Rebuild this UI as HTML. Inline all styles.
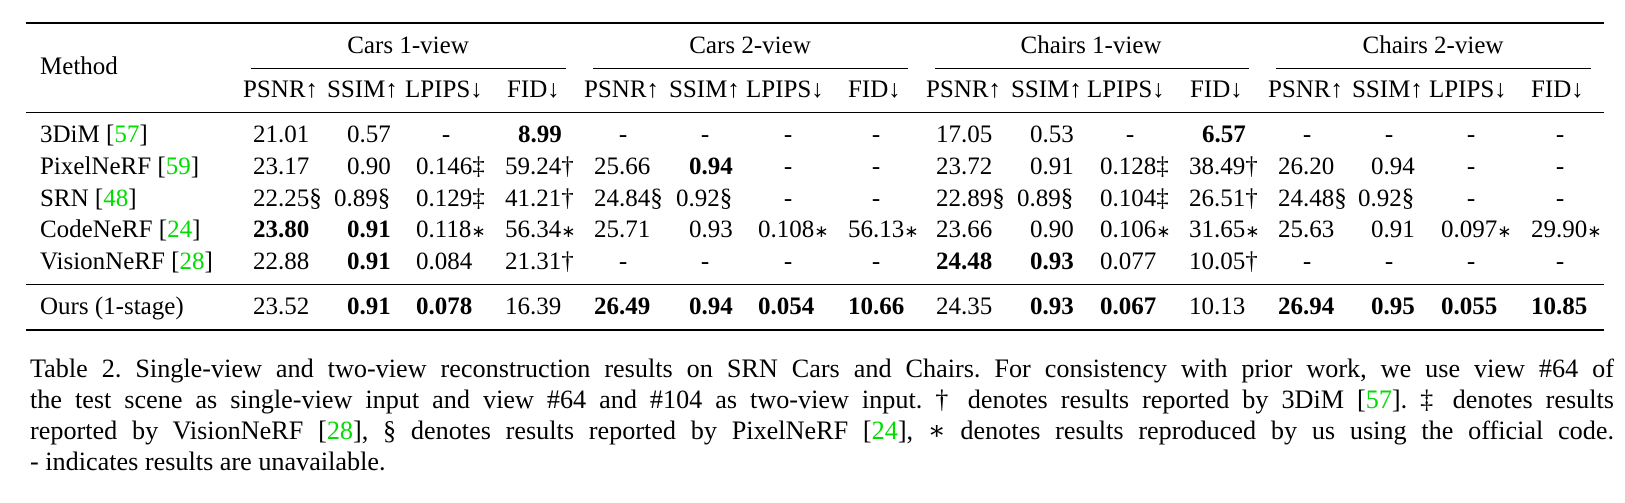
<!DOCTYPE html>
<html><head><meta charset="utf-8">
<style>
html,body{margin:0;padding:0;background:#fff;}
#root{position:relative;width:1625px;height:503px;overflow:hidden;background:#fff;font-family:"Liberation Serif","DejaVu Serif",serif;color:#000;}
.t{position:absolute;white-space:nowrap;font-size:25px;line-height:30px;}
.rule{position:absolute;background:#000;}
.ref{color:#00dd00;}
.b{font-weight:bold;}
.cap{position:absolute;left:30px;width:1584px;font-size:26.2px;line-height:30px;text-align:justify;text-align-last:justify;white-space:nowrap;}
.cap.last{text-align-last:left;}
</style></head>
<body>
<div id="root">
  <div class="rule" style="left:26px;top:22px;width:1578px;height:2px;"></div>
  <div class="rule" style="left:26px;top:112px;width:1578px;height:1.4px;"></div>
  <div class="rule" style="left:26px;top:284px;width:1578px;height:1.4px;"></div>
  <div class="rule" style="left:26px;top:329px;width:1578px;height:2px;"></div>
  <div class="t" style="left:40px;top:52px;">Method</div>

  <div class="cap" style="top:354px;">Table 2. Single-view and two-view reconstruction results on SRN Cars and Chairs. For consistency with prior work, we use view #64 of</div>
  <div class="cap" style="top:385px;">the test scene as single-view input and view #64 and #104 as two-view input. † denotes results reported by 3DiM [<span class="ref">57</span>]. ‡ denotes results</div>
  <div class="cap" style="top:416px;">reported by VisionNeRF [<span class="ref">28</span>], § denotes results reported by PixelNeRF [<span class="ref">24</span>], ∗ denotes results reproduced by us using the official code.</div>
  <div class="cap last" style="top:447px;">- indicates results are unavailable.</div>
</div>
<script>
const groups = ["Cars 1-view","Cars 2-view","Chairs 1-view","Chairs 2-view"];
const metrics = ["PSNR↑","SSIM↑","LPIPS↓","FID↓"];
const methods = ["3DiM","PixelNeRF","SRN","CodeNeRF","VisionNeRF","Ours (1-stage)"];
const refs = ["57","59","48","24","28",""];
const rowValues = [
  ["21.01","0.57","-","8.99","-","-","-","-","17.05","0.53","-","6.57","-","-","-","-"],
  ["23.17","0.90","0.146‡","59.24†","25.66","0.94","-","-","23.72","0.91","0.128‡","38.49†","26.20","0.94","-","-"],
  ["22.25§","0.89§","0.129‡","41.21†","24.84§","0.92§","-","-","22.89§","0.89§","0.104‡","26.51†","24.48§","0.92§","-","-"],
  ["23.80","0.91","0.118∗","56.34∗","25.71","0.93","0.108∗","56.13∗","23.66","0.90","0.106∗","31.65∗","25.63","0.91","0.097∗","29.90∗"],
  ["22.88","0.91","0.084","21.31†","-","-","-","-","24.48","0.93","0.077","10.05†","-","-","-","-"],
  ["23.52","0.91","0.078","16.39","26.49","0.94","0.054","10.66","24.35","0.93","0.067","10.13","26.94","0.95","0.055","10.85"]
];
const boldCells = [
  [3,11],
  [5],
  [],
  [0,1],
  [1,8,9],
  [1,2,4,5,6,7,9,10,12,13,14,15]
];

// layout (positions only)
const root = document.getElementById('root');
const groupCenter = [408,750,1091,1433];
const cmid = [[251,566],[593,908],[935,1249],[1276,1591]];
const subLeft = [243,327,405,507, 584,669,746,848, 926,1011,1087,1190, 1268,1352,1429,1531];
const colLeft = [253,334,416,505, 594,676,758,848, 936,1017,1100,1189, 1278,1358,1441,1531];
const dashCenter = [266,355,446,527, 623,705,788,876, 958,1043,1130,1214, 1307,1389,1471,1560];
const rowCenter = [135,167,199,230,262,307];

function txt(html,left,center,name,cls){
  const d=document.createElement('div');
  d.className='t'+(cls?' '+cls:'');
  d.innerHTML=html;
  d.style.left=left+'px';
  d.style.top=(center-15)+'px';
  
  
  root.appendChild(d);
  return d;
}
groups.forEach((g,i)=>{
  const d=txt(g,0,46,'group-header-'+i);
  d.style.left=(groupCenter[i])+'px';
  d.style.transform='translateX(-50%)';
  const r=document.createElement('div');
  r.className='rule';
  r.style.left=cmid[i][0]+'px';r.style.top='67.5px';r.style.width=(cmid[i][1]-cmid[i][0])+'px';r.style.height='1.1px';
  
  
  root.appendChild(r);
  metrics.forEach((m,j)=>{
    txt(m,subLeft[i*4+j],90,'metric-header-'+i+'-'+j);
  });
});
methods.forEach((m,r)=>{
  const label = refs[r] ? m+' [<span class="ref">'+refs[r]+'</span>]' : m;
  txt(label,40,rowCenter[r],'method-name-'+r);
  rowValues[r].forEach((v,c)=>{
    const bold = boldCells[r].indexOf(c)>=0;
    let html=v.replace(/∗/g,'<span style="font-family:DejaVu Sans;font-size:17px;">∗</span>');
    if(v==='-'){
      const d=txt('-',dashCenter[c],rowCenter[r],'cell-'+r+'-'+c, bold?'b':'');
      d.style.transform='translateX(-50%)';
    } else {
      let left=colLeft[c];
      if(v.length===4 && v.indexOf('.')===1) left+=13;
      txt(html,left,rowCenter[r],'cell-'+r+'-'+c, bold?'b':'');
    }
  });
});
</script>
</body></html>
